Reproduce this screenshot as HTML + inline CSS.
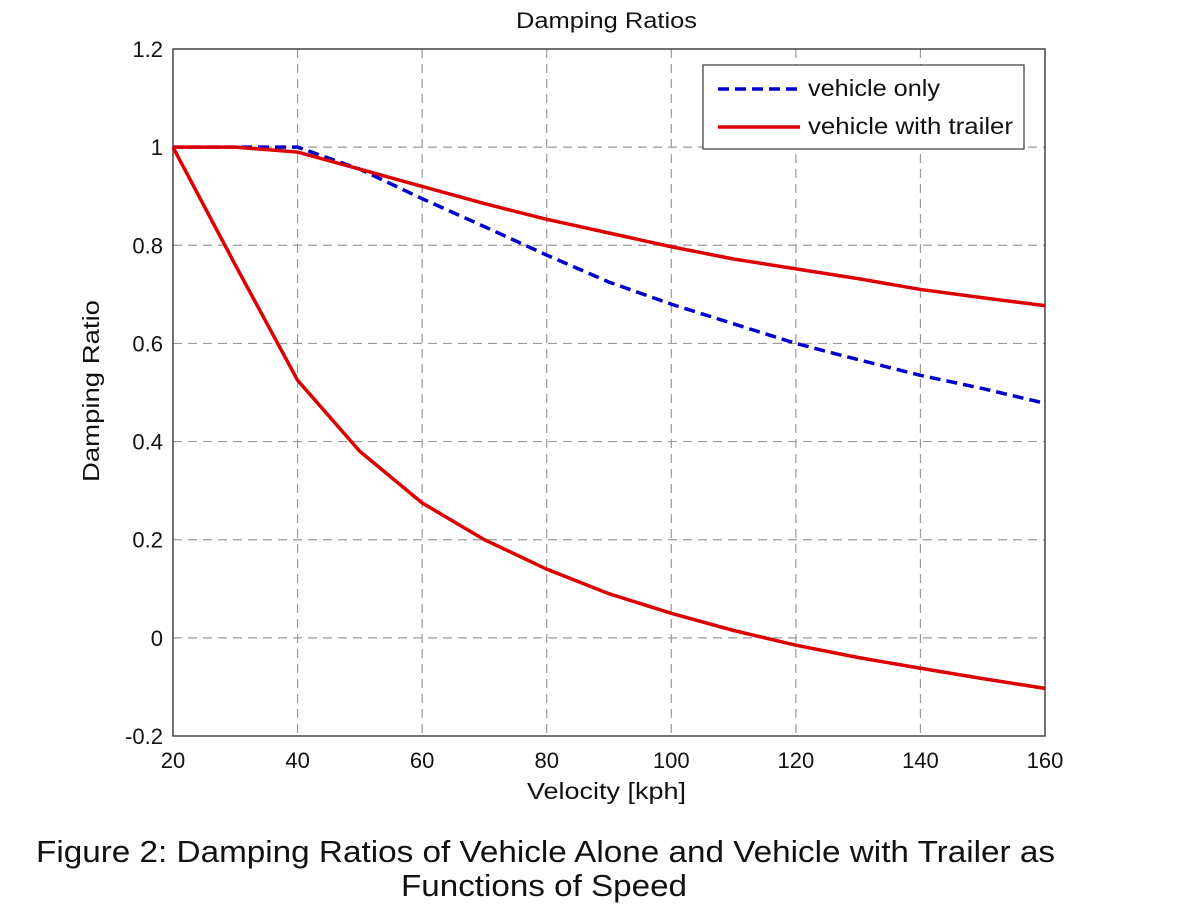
<!DOCTYPE html>
<html><head><style>
body{margin:0;background:#fff;}
svg{display:block;font-family:"Liberation Sans",Arial,sans-serif;}
</style></head><body>
<svg id="s" width="1200" height="913" xmlns="http://www.w3.org/2000/svg">
<rect width="1200" height="913" fill="#fff"/>
<g id="grid" stroke="#999" stroke-width="1.2" stroke-dasharray="9,6"></g>
<rect x="173" y="49" width="872" height="687" fill="none" stroke="#444" stroke-width="1.5"/>
<g id="ticks" font-size="22" fill="#111"></g>
<g id="lines" fill="none"></g>
<text x="516" y="28" font-size="22" textLength="181" lengthAdjust="spacingAndGlyphs" fill="#111">Damping Ratios</text>
<text x="527" y="799" font-size="23" textLength="159" lengthAdjust="spacingAndGlyphs" fill="#111">Velocity [kph]</text>
<text transform="translate(99,482) rotate(-90)" font-size="23" textLength="182" lengthAdjust="spacingAndGlyphs" fill="#111">Damping Ratio</text>
<rect x="703" y="65" width="321" height="84" fill="#fff" stroke="#444" stroke-width="1.3"/>
<line x1="718" y1="89" x2="800" y2="89" stroke="#0000cc" stroke-width="3.5" stroke-dasharray="11,6"/>
<line x1="718" y1="127" x2="800" y2="127" stroke="#dd0000" stroke-width="3.5"/>
<text x="808" y="96" font-size="23" textLength="132" lengthAdjust="spacingAndGlyphs" fill="#111">vehicle only</text>
<text x="808" y="134" font-size="23" textLength="205" lengthAdjust="spacingAndGlyphs" fill="#111">vehicle with trailer</text>
<text x="36" y="862" font-size="31" textLength="1019" lengthAdjust="spacingAndGlyphs" fill="#111">Figure 2: Damping Ratios of Vehicle Alone and Vehicle with Trailer as</text>
<text x="401" y="896" font-size="31" textLength="286" lengthAdjust="spacingAndGlyphs" fill="#111">Functions of Speed</text>
</svg>
<script>
var X=function(v){return 173+(v-20)*872/140;},Y=function(v){return 736-(v+0.2)*687/1.4;};
var g=document.getElementById('grid'),t=document.getElementById('ticks'),L=document.getElementById('lines');
var ns="http://www.w3.org/2000/svg";
function el(p,n,a,txt){var e=document.createElementNS(ns,n);for(var k in a)e.setAttribute(k,a[k]);if(txt)e.textContent=txt;p.appendChild(e);}
for(var v=40;v<160;v+=20)el(g,'line',{x1:X(v),x2:X(v),y1:49,y2:736});
var ys=[1.2,1,0.8,0.6,0.4,0.2,0,-0.2];
ys.forEach(function(v){if(v<1.2&&v>-0.2)el(g,'line',{x1:173,x2:1045,y1:Y(v),y2:Y(v)});
 el(t,'text',{x:163,y:Y(v)+8,'text-anchor':'end'},v==0?'0':(v==1?'1':String(v)));});
for(var v=20;v<=160;v+=20)el(t,'text',{x:X(v),y:768,'text-anchor':'middle'},String(v));
var xs=[20,30,40,50,60,70,80,90,100,110,120,130,140,150,160];
var vo=[1,1,1,0.955,0.895,0.838,0.78,0.725,0.68,0.64,0.60,0.567,0.535,0.508,0.478];
var up=[1,1,0.99,0.955,0.92,0.885,0.853,0.825,0.797,0.772,0.752,0.732,0.71,0.693,0.677];
var lo=[1,0.76,0.525,0.38,0.275,0.2,0.14,0.09,0.05,0.015,-0.015,-0.04,-0.062,-0.083,-0.103];
function pts(a){return xs.map(function(x,i){return X(x)+','+Y(a[i]);}).join(' ');}
el(L,'polyline',{points:pts(vo),stroke:'#0000cc','stroke-width':3.5,'stroke-dasharray':'11,6'});
el(L,'polyline',{points:pts(up),stroke:'#dd0000','stroke-width':3.5});
el(L,'polyline',{points:pts(lo),stroke:'#dd0000','stroke-width':3.5});
</script>
</body></html>
